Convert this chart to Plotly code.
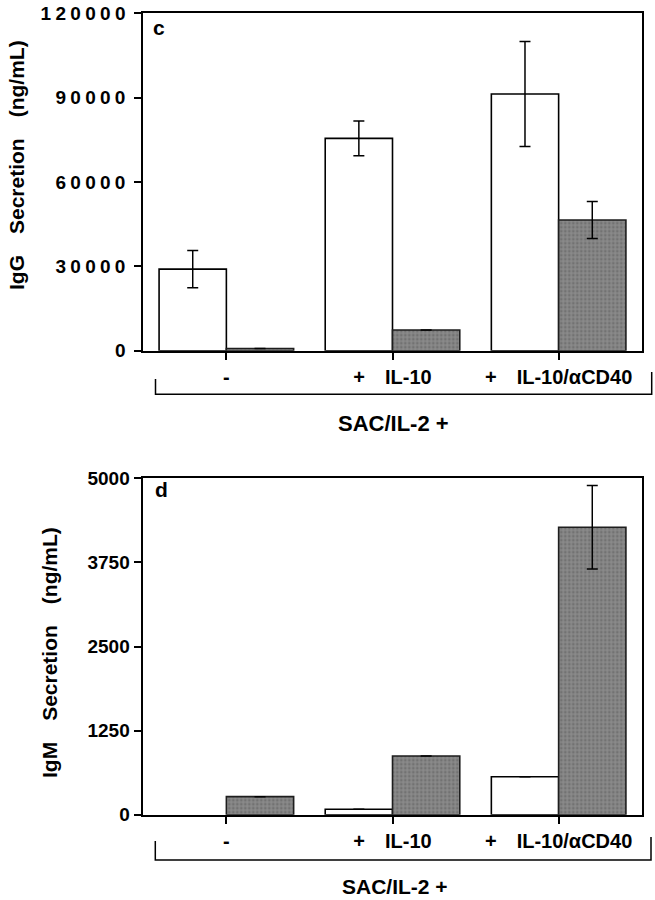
import plotly.graph_objects as go
from plotly.subplots import make_subplots

# ---------------- data ----------------
categories = ["-", "+\u2003IL-10", "+\u2003IL-10/\u03b1CD40"]

igg_white = [29000, 75500, 91300]
igg_white_err = [6600, 6200, 18700]
igg_grey = [800, 7360, 46500]
igg_grey_err = [None, None, 6600]

igm_white = [None, 80, 565]
igm_white_err = [None, None, None]
igm_grey = [268, 872, 4272]
igm_grey_err = [None, None, 620]

igg_ticks = [0, 30000, 60000, 90000, 120000]
igm_ticks = [0, 1250, 2500, 3750, 5000]

# ---------------- layout helpers ----------------
W, H = 655, 900
FONT = "Liberation Sans, Arial, Helvetica, sans-serif"


def px(x):
    return x / W


def py(y):
    return 1 - y / H


GREY = "#8a8a8a"

fig = make_subplots(rows=2, cols=1)


def add_pair(white, werr, grey, gerr, row):
    fig.add_trace(go.Bar(
        x=categories, y=white,
        marker=dict(color="white", line=dict(color="black", width=1.6)),
        error_y=dict(type="data", array=werr, visible=True, color="black",
                     thickness=1.5, width=5.5),
        showlegend=False, hoverinfo="y"), row=row, col=1)
    fig.add_trace(go.Bar(
        x=categories, y=grey,
        marker=dict(color=GREY, line=dict(color="#1e1e1e", width=1.6),
                    pattern=dict(shape=".", fillmode="overlay", fgcolor="#5a5a5a",
                                 size=4, solidity=0.4)),
        error_y=dict(type="data", array=gerr, visible=True, color="black",
                     thickness=1.5, width=5.5),
        showlegend=False, hoverinfo="y"), row=row, col=1)


add_pair(igg_white, igg_white_err, igg_grey, igg_grey_err, 1)
add_pair(igm_white, igm_white_err, igm_grey, igm_grey_err, 2)

xdom = [px(143.3), px(641.7)]
top_dom = [py(350.7), py(13.3)]
bot_dom = [py(814.7), py(478.3)]

xcommon = dict(
    domain=xdom, range=[-0.5, 2.5], showline=True, mirror=True, linecolor="black",
    linewidth=1.5, ticks="outside", ticklen=8, tickwidth=1.5, tickcolor="black",
    showgrid=False, zeroline=False, automargin=False,
    tickfont=dict(family=FONT, size=20, color="black", weight="bold"),
)
ycommon = dict(
    showline=True, mirror=True, linecolor="black", linewidth=1.5,
    ticks="outside", ticklen=8, tickwidth=1.5, tickcolor="black",
    showgrid=False, zeroline=False, automargin=False,
    tickfont=dict(family=FONT, size=19, color="black", weight="bold"),
)

fig.update_layout(
    xaxis=dict(**xcommon),
    xaxis2=dict(**xcommon),
    yaxis=dict(**ycommon, domain=top_dom, range=[0, 120000], tickvals=igg_ticks,
               ticktext=[str(v) for v in igg_ticks]),
    yaxis2=dict(**ycommon, domain=bot_dom, range=[0, 5000], tickvals=igm_ticks,
                ticktext=[str(v) for v in igm_ticks]),
    barmode="group", bargap=0.19, bargroupgap=0,
    width=W, height=H, margin=dict(l=0, r=0, t=0, b=0, autoexpand=False),
    paper_bgcolor="white", plot_bgcolor="white",
    showlegend=False,
    font=dict(family=FONT, color="black"),
)

bold = dict(family=FONT, color="black", weight="bold")
ann = [
    dict(x=px(16), y=py(165), text="IgG\u2003Secretion\u2003(ng/mL)", textangle=-90,
         font=dict(size=21, **bold)),
    dict(x=px(49), y=py(653), text="IgM\u2003Secretion\u2003(ng/mL)", textangle=-90,
         font=dict(size=21, **bold)),
    dict(x=px(393), y=py(423), text="SAC/IL-2 +", font=dict(size=22, **bold)),
    dict(x=px(395), y=py(886), text="SAC/IL-2 +", font=dict(size=21, **bold)),
    dict(x=px(159), y=py(28), text="c", font=dict(size=21, **bold)),
    dict(x=px(161), y=py(490), text="d", font=dict(size=21, **bold)),
]
for a in ann:
    a.update(xref="paper", yref="paper", showarrow=False, xanchor="center",
             yanchor="middle", borderpad=0)
fig.update_layout(annotations=ann)


def bracket(xl, yl_top, xr, yr_top, ybot):
    return dict(type="path", xref="paper", yref="paper",
                path=f"M {px(xl)},{py(yl_top)} L {px(xl)},{py(ybot)} "
                     f"L {px(xr)},{py(ybot)} L {px(xr)},{py(yr_top)}",
                line=dict(color="black", width=1.5))


fig.update_layout(shapes=[
    bracket(155.5, 379, 651.7, 372, 394.3),
    bracket(155.3, 841, 651.0, 837, 860),
])

post = """
document.body.style.margin = '0';
document.body.style.padding = '0';
document.querySelectorAll('.ytick text').forEach(function(t){
  t.setAttribute('letter-spacing','4.3px');
});
"""
fig.write_html("out.html", post_script=post, config={"displayModeBar": False})
